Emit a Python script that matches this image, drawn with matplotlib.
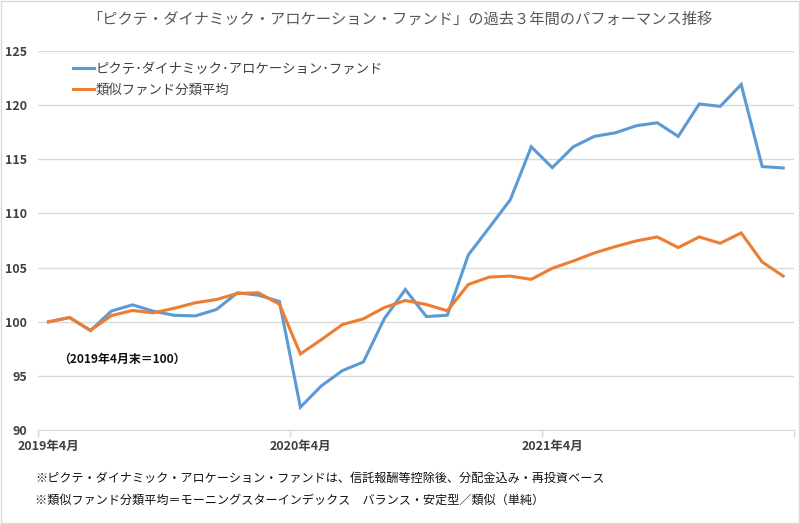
import matplotlib
matplotlib.use("Agg")
import matplotlib.pyplot as plt
from matplotlib.patches import Rectangle

plt.rcParams['font.family'] = ['Noto Sans CJK JP', 'DejaVu Sans']

title = "「ピクテ・ダイナミック・アロケーション・ファンド」の過去３年間のパフォーマンス推移"
fund_name = "ピクテ･ダイナミック･アロケーション･ファンド"
peer_name = "類似ファンド分類平均"

# monthly index, 2019/4 end = 100 (36 months)
fund = [100.0, 100.4, 99.2, 101.0, 101.57, 100.98, 100.6, 100.55, 101.14, 102.68,
        102.46, 101.88, 92.13, 94.1, 95.5, 96.3, 100.3, 102.98, 100.49, 100.61,
        106.17, 108.7, 111.26, 116.14, 114.22, 116.14, 117.1, 117.43, 118.08, 118.36,
        117.1, 120.09, 119.87, 121.88, 114.32, 114.19]
peer = [100.0, 100.4, 99.22, 100.58, 101.05, 100.83, 101.26, 101.76, 102.06, 102.62,
        102.68, 101.63, 97.04, 98.36, 99.75, 100.28, 101.32, 101.97, 101.6, 101.02,
        103.45, 104.13, 104.22, 103.92, 104.94, 105.61, 106.35, 106.94, 107.46, 107.83,
        106.85, 107.83, 107.25, 108.2, 105.52, 104.22]

tick_labels = ["2019年4月", "2020年4月", "2021年4月"]
y_ticks = [90, 95, 100, 105, 110, 115, 120, 125]

notes = ["※ピクテ・ダイナミック・アロケーション・ファンドは、信託報酬等控除後、分配金込み・再投資ベース",
         "※類似ファンド分類平均＝モーニングスターインデックス　バランス・安定型／類似（単純）"]

blue = "#5B9BD5"
orange = "#ED7D31"
txt = "#404040"

fig = plt.figure(figsize=(8, 5.24), dpi=100)
ax = fig.add_axes([0.0475, 0.1788, 0.9446, 0.7244])

x = list(range(len(fund)))
ax.plot(x, fund, color=blue, lw=2.2, label=fund_name, solid_joinstyle='miter')
ax.plot(x, peer, color=orange, lw=2.2, label=peer_name, solid_joinstyle='miter')

ax.set_xlim(-0.5, len(fund) - 0.5)
ax.set_ylim(90, 125)
ax.set_yticks(y_ticks)
ax.set_yticklabels([str(v) for v in y_ticks], fontsize=9, color=txt, fontweight='bold')
ax.yaxis.grid(True, color="#d9d9d9", lw=1)
ax.set_axisbelow(True)
ax.tick_params(axis='y', length=0, pad=8)

# tick marks on category boundaries, labels on the April points
ax.set_xticks([-0.5, 11.5, 23.5, 35.5])
ax.set_xticklabels([])
ax.tick_params(axis='x', which='major', length=5, color="#d9d9d9", width=1)
ax.set_xticks([0, 12, 24], minor=True)
ax.set_xticklabels(tick_labels, minor=True, fontsize=9, color=txt, fontweight='bold')
ax.tick_params(axis='x', which='minor', length=0, pad=7)

for s in ['top', 'right', 'left']:
    ax.spines[s].set_visible(False)
ax.spines['bottom'].set_color("#d9d9d9")

leg = ax.legend(loc='upper left', bbox_to_anchor=(0.03, 1.003), frameon=False,
                fontsize=9.6, handlelength=1.6, handletextpad=0.15, labelspacing=0.5)
for t in leg.get_texts():
    t.set_color(txt)

ax.text(0.026, 0.187, "（2019年4月末＝100）", transform=ax.transAxes, fontsize=8.6,
        fontweight='bold', color="#111111", va='center')

fig.text(0.5, 0.963, title, ha='center', va='center', fontsize=11, color="#595959")
fig.text(0.044, 0.087, notes[0], ha='left', va='center', fontsize=8.7, color="#111111")
fig.text(0.044, 0.045, notes[1], ha='left', va='center', fontsize=8.7, color="#111111")

fig.patches.append(Rectangle((0.001, 0.001), 0.998, 0.997, transform=fig.transFigure,
                             fill=False, edgecolor="#d9d9d9", lw=1))

fig.savefig("out.png", dpi=100)
